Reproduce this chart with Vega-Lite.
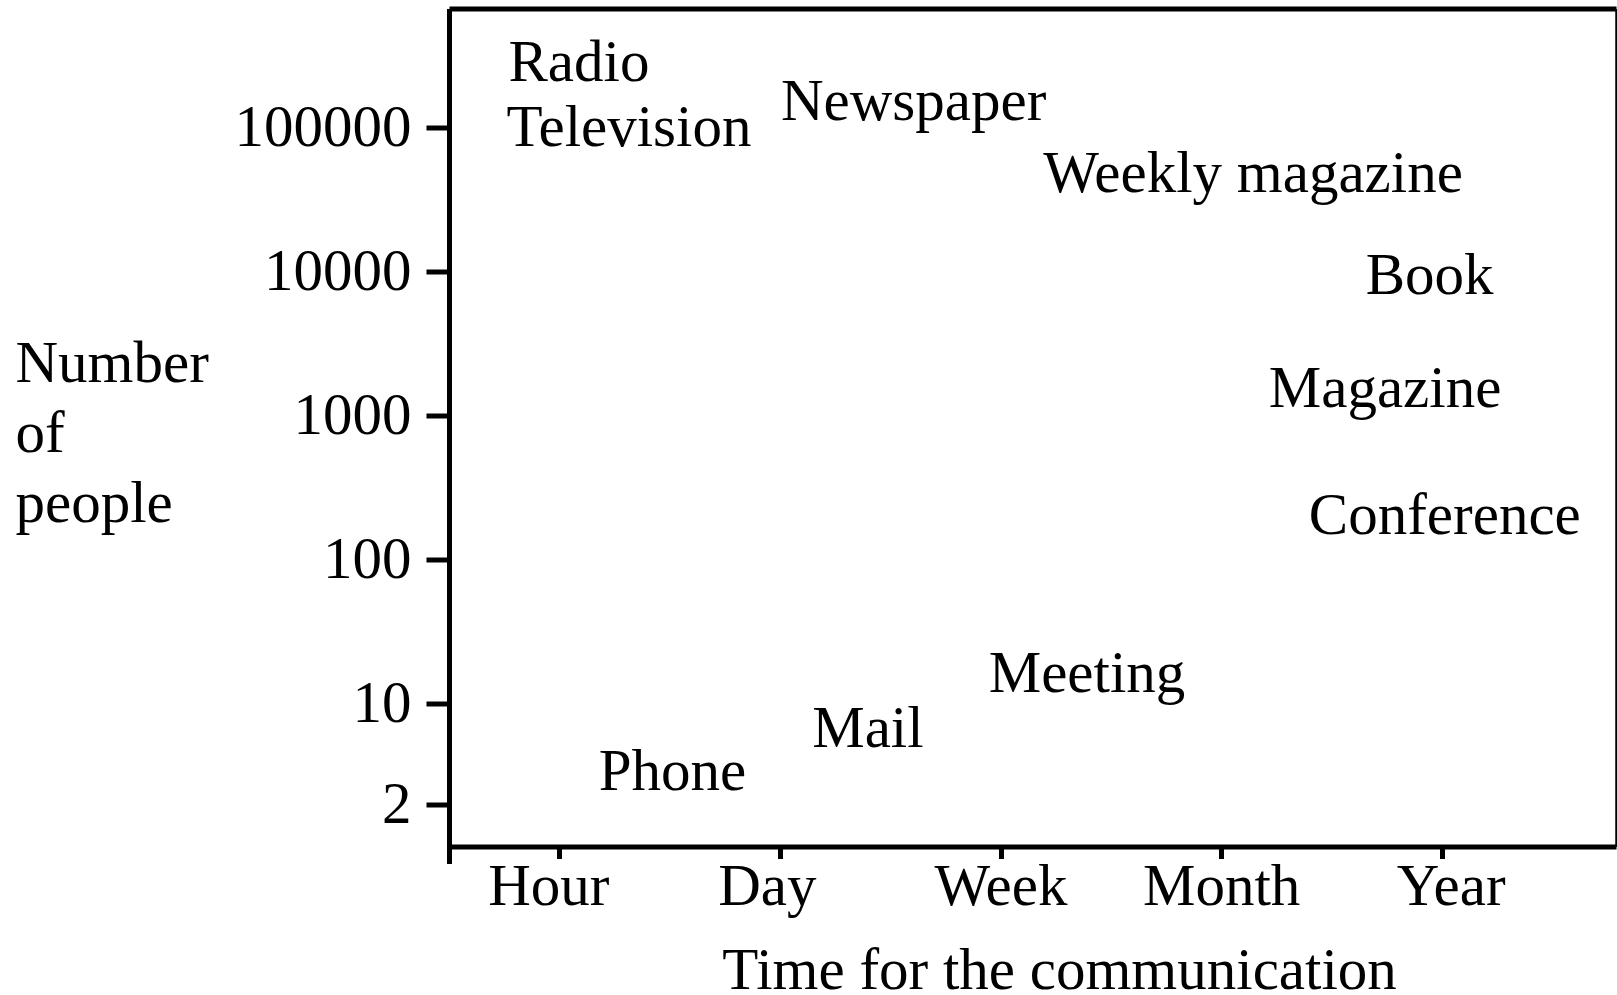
{
  "$schema": "https://vega.github.io/schema/vega-lite/v6.json",
  "autosize": {"type": "none"},
  "padding": {"left": 449, "top": 8.5, "right": 1, "bottom": 148.5},
  "width": 1167,
  "height": 838,
  "background": "white",
  "config": {
    "view": {"stroke": null},
    "font": "Liberation Serif",
    "axis": {"grid": false, "domainColor": "black", "tickColor": "black", "labelColor": "black", "titleColor": "black", "labelFont": "Liberation Serif", "titleFont": "Liberation Serif", "titleFontWeight": "normal"}
  },
  "data": {
    "values": [
      {"medium": "Radio", "time": 1.089, "people": 211100},
      {"medium": "Television", "time": 1.316, "people": 75270},
      {"medium": "Newspaper", "time": 2.606, "people": 113200},
      {"medium": "Weekly magazine", "time": 4.145, "people": 35790},
      {"medium": "Book", "time": 4.945, "people": 7004},
      {"medium": "Magazine", "time": 4.743, "people": 1150},
      {"medium": "Conference", "time": 5.014, "people": 150.4},
      {"medium": "Meeting", "time": 3.392, "people": 12.16},
      {"medium": "Mail", "time": 2.399, "people": 4.99},
      {"medium": "Phone", "time": 1.513, "people": 2.5}
    ]
  },
  "resolve": {"axis": {"x": "independent", "y": "independent"}},
  "layer": [
    {
      "mark": {"type": "text", "font": "Liberation Serif", "fontSize": 59, "align": "center", "baseline": "alphabetic", "color": "black"},
      "encoding": {
        "x": {
          "field": "time", "type": "quantitative",
          "scale": {"domain": [0.5, 5.79], "nice": false, "zero": false},
          "axis": {
            "orient": "bottom",
            "values": [0.5, 1, 2, 3, 4, 5],
            "labelExpr": "datum.value == 1 ? 'Hour' : datum.value == 2 ? 'Day' : datum.value == 3 ? 'Week' : datum.value == 4 ? 'Month' : datum.value == 5 ? 'Year' : ''",
            "domainWidth": 5,
            "tickWidth": 5,
            "tickSize": {"condition": {"test": "datum.value < 0.9", "value": 17}, "value": 12},
            "labelOffset": {"condition": [
              {"test": "datum.value == 1", "value": -11},
              {"test": "datum.value == 2", "value": -13},
              {"test": "datum.value == 5", "value": 9}
            ], "value": 0},
            "labelFontSize": 59,
            "labelBaseline": "alphabetic",
            "labelPadding": 45.5,
            "labelFlush": false,
            "labelOverlap": false,
            "title": "Time for the communication",
            "titleFontSize": 59,
            "titleAlign": "center",
            "titleBaseline": "alphabetic",
            "titleX": 610,
            "titleY": 142
          }
        },
        "y": {
          "field": "people", "type": "quantitative",
          "scale": {"type": "log", "domain": [1.02, 673000], "nice": false, "zero": false},
          "axis": {
            "orient": "left",
            "values": [2, 10, 100, 1000, 10000, 100000],
            "format": "d",
            "domainWidth": 5,
            "tickWidth": 5,
            "tickSize": 23,
            "labelFontSize": 59,
            "labelPadding": 15,
            "labelOverlap": false,
            "labelFlush": false,
            "title": ["Number", "of", "people"],
            "titleFontSize": 59,
            "titleAngle": 0,
            "titleAlign": "left",
            "titleBaseline": "alphabetic",
            "titleLineHeight": 70,
            "titleX": -434,
            "titleY": 373.2
          }
        },
        "text": {"field": "medium", "type": "nominal"}
      }
    },
    {
      "mark": {"type": "point", "opacity": 0},
      "encoding": {
        "x": {
          "field": "time", "type": "quantitative",
          "axis": {"orient": "top", "domainWidth": 5, "ticks": false, "labels": false, "title": null}
        },
        "y": {
          "field": "people", "type": "quantitative",
          "axis": {"orient": "right", "domainWidth": 2.5, "ticks": false, "labels": false, "title": null}
        }
      }
    }
  ]
}
